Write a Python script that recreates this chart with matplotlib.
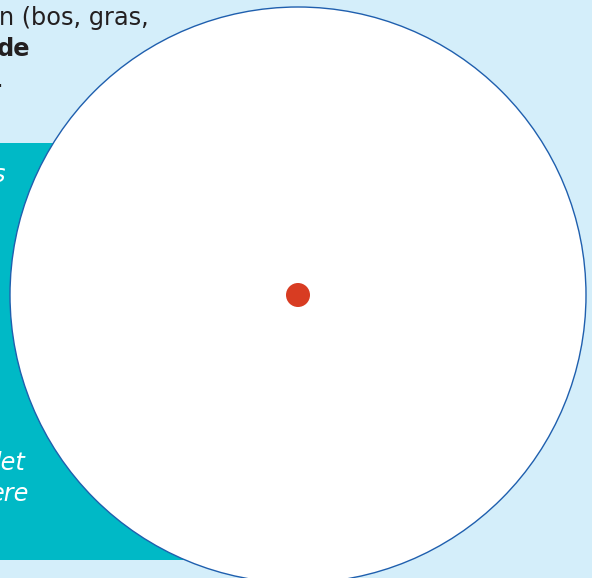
import matplotlib
matplotlib.use("Agg")
import matplotlib.pyplot as plt
from matplotlib.patches import Circle, Rectangle

# text fragments visible in the crop
top_lines = ["n (bos, gras,", "de", "."]
top_weights = ["normal", "bold", "normal"]
box_lines = ["s", "let", "ere"]

BG = "#d4eefa"
TEAL = "#00b9c6"
EDGE = "#1f5fae"
DOT = "#d83c22"
INK = "#231f20"

fig = plt.figure(figsize=(5.92, 5.78), dpi=100)
fig.patch.set_facecolor(BG)
ax = fig.add_axes([0, 0, 1, 1])
ax.set_xlim(0, 592)
ax.set_ylim(578, 0)
ax.set_aspect("equal")
ax.axis("off")

# ---------------- BACKGROUND TEXT ----------------
top_x = [149, 30, 3]
top_y = [25, 56, 87]
for txt, w, x, y in zip(top_lines, top_weights, top_x, top_y):
    ax.text(x, y, txt, ha="right", va="baseline", fontsize=17.3,
            fontweight=w, color=INK, family="DejaVu Sans")

# ---------------- TEAL BOX ----------------
ax.add_patch(Rectangle((-5, 143), 300, 417, facecolor=TEAL, edgecolor="none"))
box_x = [5, 25, 29]
box_y = [182, 470, 501]
for txt, x, y in zip(box_lines, box_x, box_y):
    ax.text(x, y, txt, ha="right", va="baseline", fontsize=17.3,
            style="italic", color="white", family="DejaVu Sans")

# ---------------- CIRCLE + DOT ----------------
ax.add_patch(Circle((298, 295), 288, facecolor="white", edgecolor=EDGE, lw=1.0))
ax.add_patch(Circle((298, 295), 12, facecolor=DOT, edgecolor="none"))

fig.savefig("out.png", dpi=100, facecolor=BG)
